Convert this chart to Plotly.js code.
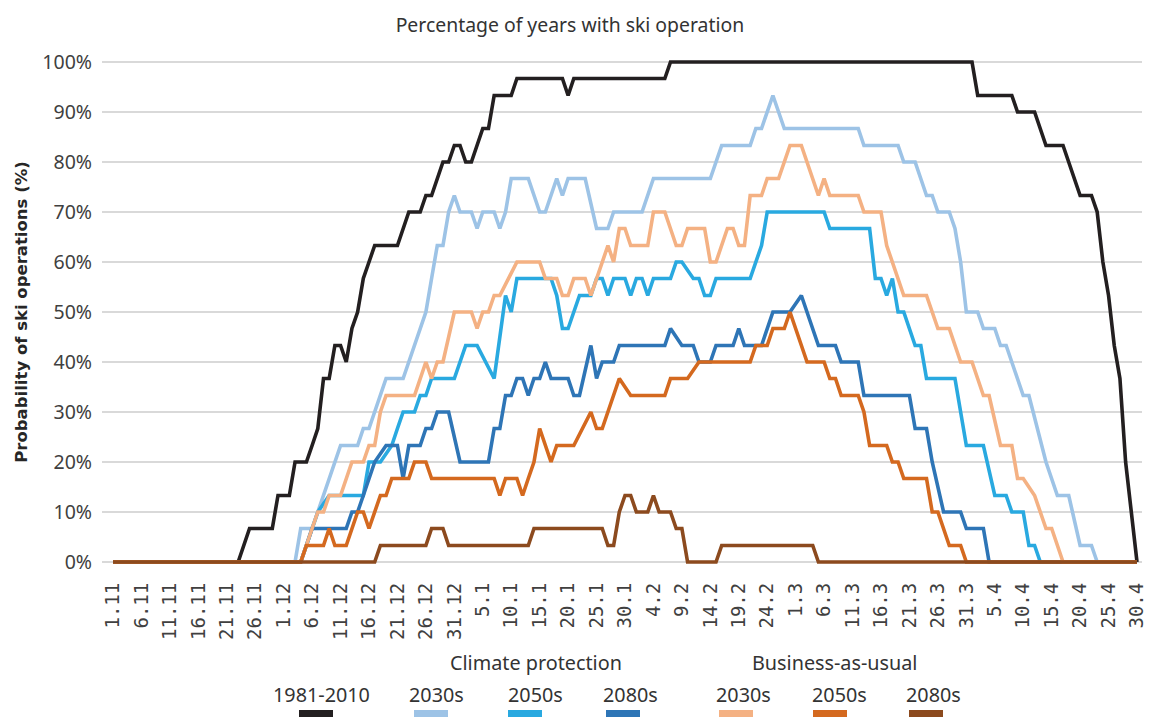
<!DOCTYPE html>
<html>
<head>
<meta charset="utf-8">
<script src="https://cdn.plot.ly/plotly-3.0.1.min.js"></script>
<style>
html,body{margin:0;padding:0;background:#fff;}
#chart{width:1149px;height:717px;}
</style>
</head>
<body>
<div id="chart"></div>
<script>
// ---- Data (day index 0 = 1 Nov, 180 = 30 Apr; values in % of years) ----
const tickDays = [0,5,10,15,20,25,30,35,40,45,50,55,60,65,70,75,80,85,90,95,100,105,110,115,120,125,130,135,140,145,150,155,160,165,170,175,180];
const tickLabels = ["1.11","6.11","11.11","16.11","21.11","26.11","1.12","6.12","11.12","16.12","21.12","26.12","31.12","5.1","10.1","15.1","20.1","25.1","30.1","4.2","9.2","14.2","19.2","24.2","1.3","6.3","11.3","16.3","21.3","26.3","31.3","5.4","10.4","15.4","20.4","25.4","30.4"];

const refDay = [0,22,24,28,29,31,32,34,35,36,37,38,39,40,41,42,43,44,45,46,50,52,54,55,56,58,59,60,61,62,63,65,66,67,70,71,79,80,81,97,98,151,152,158,159,162,164,167,170,172,173,174,175,176,177,178,179,180];
const refPct = [0,0,6.7,6.7,13.3,13.3,20,20,23.3,26.7,36.7,36.7,43.3,43.3,40,46.7,50,56.7,60,63.3,63.3,70,70,73.3,73.3,80,80,83.3,83.3,80,80,86.7,86.7,93.3,93.3,96.7,96.7,93.3,96.7,96.7,100,100,93.3,93.3,90,90,83.3,83.3,73.3,73.3,70,60,53.3,43.3,36.7,20,10,0];

const cp30Day = [0,32,33,35,36,37,38,39,40,43,44,45,46,47,48,51,52,53,54,55,56,57,58,59,60,61,63,64,65,67,68,69,70,73,75,76,78,79,80,83,85,87,88,93,95,105,107,112,113,114,116,118,131,132,138,139,141,143,144,145,147,148,149,150,152,153,155,156,157,160,161,164,166,168,170,172,173,180];
const cp30Pct = [0,0,6.7,6.7,10,13.3,16.7,20,23.3,23.3,26.7,26.7,30,33.3,36.7,36.7,40,43.3,46.7,50,56.7,63.3,63.3,70,73.3,70,70,66.7,70,70,66.7,70,76.7,76.7,70,70,76.7,73.3,76.7,76.7,66.7,66.7,70,70,76.7,76.7,83.3,83.3,86.7,86.7,93.3,86.7,86.7,83.3,83.3,80,80,73.3,73.3,70,70,66.7,60,50,50,46.7,46.7,43.3,43.3,33.3,33.3,20,13.3,13.3,3.3,3.3,0,0];

const cp50Day = [0,33,36,38,44,45,47,49,50,51,53,54,55,56,60,62,64,67,69,70,71,77,78,79,80,81,82,84,85,86,87,88,90,91,92,93,94,95,98,99,100,102,103,104,105,106,112,114,115,125,126,133,134,135,136,137,138,139,141,142,143,148,150,153,155,157,158,160,161,162,163,180];
const cp50Pct = [0,0,10,13.3,13.3,20,20,23.3,26.7,30,30,33.3,33.3,36.7,36.7,43.3,43.3,36.7,53.3,50,56.7,56.7,53.3,46.7,46.7,50,53.3,53.3,56.7,56.7,53.3,56.7,56.7,53.3,56.7,56.7,53.3,56.7,56.7,60,60,56.7,56.7,53.3,53.3,56.7,56.7,63.3,70,70,66.7,66.7,56.7,56.7,53.3,56.7,50,50,43.3,43.3,36.7,36.7,23.3,23.3,13.3,13.3,10,10,3.3,3.3,0,0];

const cp80Day = [0,33,35,41,42,43,44,46,48,50,51,52,54,55,56,57,59,61,66,67,68,69,70,71,72,73,74,75,76,77,80,81,82,84,85,86,88,89,97,98,100,102,103,105,106,109,110,111,114,116,119,121,124,127,128,131,132,140,141,143,144,146,149,150,153,154,180];
const cp80Pct = [0,0,6.7,6.7,10,10,13.3,20,23.3,23.3,16.7,23.3,23.3,26.7,26.7,30,30,20,20,26.7,26.7,33.3,33.3,36.7,36.7,33.3,36.7,36.7,40,36.7,36.7,33.3,33.3,43.3,36.7,40,40,43.3,43.3,46.7,43.3,43.3,40,40,43.3,43.3,46.7,43.3,43.3,50,50,53.3,43.3,43.3,40,40,33.3,33.3,26.7,26.7,20,10,10,6.7,6.7,0,0];

const bau30Day = [0,33,35,36,37,38,40,42,44,45,46,47,48,53,55,56,57,58,60,63,64,65,66,67,68,71,75,76,78,79,80,81,83,84,87,88,89,90,91,94,95,97,99,100,101,104,105,106,108,109,110,111,112,114,115,117,119,121,124,125,126,131,132,135,136,137,139,143,145,147,149,151,153,154,156,158,159,160,162,164,165,167,180];
const bau30Pct = [0,0,6.7,10,10,13.3,13.3,20,20,23.3,23.3,30,33.3,33.3,40,36.7,40,40,50,50,46.7,50,50,53.3,53.3,60,60,56.7,56.7,53.3,53.3,56.7,56.7,53.3,63.3,60,66.7,66.7,63.3,63.3,70,70,63.3,63.3,66.7,66.7,60,60,66.7,66.7,63.3,63.3,73.3,73.3,76.7,76.7,83.3,83.3,73.3,76.7,73.3,73.3,70,70,63.3,60,53.3,53.3,46.7,46.7,40,40,33.3,33.3,23.3,23.3,16.7,16.7,13.3,6.7,6.7,0,0];

const bau50Day = [0,33,34,37,38,39,41,43,44,45,47,48,49,52,53,55,56,67,68,69,71,72,73,74,75,77,78,81,84,85,86,89,91,97,98,101,103,112,113,115,116,118,119,122,125,126,127,128,131,132,133,136,137,138,139,143,144,145,147,149,150,180];
const bau50Pct = [0,0,3.3,3.3,6.7,3.3,3.3,10,10,6.7,13.3,13.3,16.7,16.7,20,20,16.7,16.7,13.3,16.7,16.7,13.3,16.7,20,26.7,20,23.3,23.3,30,26.7,26.7,36.7,33.3,33.3,36.7,36.7,40,40,43.3,43.3,46.7,46.7,50,40,40,36.7,36.7,33.3,33.3,30,23.3,23.3,20,20,16.7,16.7,10,10,3.3,3.3,0,0];

const bau80Day = [0,46,47,55,56,58,59,73,74,86,87,88,89,90,91,92,94,95,96,98,99,100,101,106,107,123,124,180];
const bau80Pct = [0,0,3.3,3.3,6.7,6.7,3.3,3.3,6.7,6.7,3.3,3.3,10,13.3,13.3,10,10,13.3,10,10,6.7,6.7,0,0,3.3,3.3,0,0];

const seriesNames = ["1981-2010","2030s","2050s","2080s","2030s","2050s","2080s"];
const seriesColors = ["#231f20","#9dc3e6","#29a9e0","#2e75b6","#f4b183","#d4691f","#8c4a1e"];
const seriesDays = [refDay,cp30Day,cp50Day,cp80Day,bau30Day,bau50Day,bau80Day];
const seriesPct = [refPct,cp30Pct,cp50Pct,cp80Pct,bau30Pct,bau50Pct,bau80Pct];

// ---- Layout geometry ----
const W = 1149, H = 717;
const M = {l:102, r:7, t:57, b:150};
const plotW = W - M.l - M.r, plotH = H - M.t - M.b;
const px2x = px => (px - M.l) / plotW;
const py2y = py => (H - M.b - py) / plotH;

const traces = seriesDays.map((d, i) => ({
  type: 'scatter', mode: 'lines',
  x: d, y: seriesPct[i], name: seriesNames[i],
  line: {color: seriesColors[i], width: 3.6, shape: 'linear'},
  hoverinfo: 'skip', showlegend: false
}));

const sans = 'Noto Sans, Open Sans, sans-serif';
const annotations = [
  {text: 'Climate protection', x: px2x(536), y: py2y(662)},
  {text: 'Business-as-usual', x: px2x(834), y: py2y(662)}
];
const labelX = [321, 436, 535, 630, 743, 839, 933];
const swatchX = [316, 431, 525, 623, 736, 830, 926];
seriesNames.forEach((n, i) => annotations.push({text: n, x: px2x(labelX[i]), y: py2y(694)}));
annotations.forEach(a => Object.assign(a, {xref: 'paper', yref: 'paper', showarrow: false, xanchor: 'center', yanchor: 'middle', font: {family: sans, size: 19.8, color: '#333333'}}));

const shapes = seriesColors.map((c, i) => ({
  type: 'rect', xref: 'paper', yref: 'paper',
  x0: px2x(swatchX[i] - 17), x1: px2x(swatchX[i] + 17),
  y0: py2y(722), y1: py2y(710),
  fillcolor: c, line: {width: 0}
}));

const layout = {
  width: W, height: H,
  margin: M,
  paper_bgcolor: '#ffffff', plot_bgcolor: '#ffffff',
  title: {text: 'Percentage of years with ski operation', x: 0.496, xanchor: 'center', y: 0.965, yanchor: 'middle', yref: 'container', font: {family: sans, size: 19.4, color: '#333333'}},
  xaxis: {
    range: [-(113 - M.l) / 5.689, 180 + (M.l + plotW - 1137) / 5.689],
    tickmode: 'array', tickvals: tickDays, ticktext: tickLabels,
    tickangle: -90, showgrid: false, zeroline: false, showline: false,
    ticks: '', ticklabelstandoff: 11,
    tickfont: {family: 'DejaVu Sans Mono, monospace', size: 19, color: '#404040'},
    fixedrange: true
  },
  yaxis: {
    range: [-1, 101],
    tickmode: 'array', tickvals: [0,10,20,30,40,50,60,70,80,90,100],
    ticktext: ['0%','10%','20%','30%','40%','50%','60%','70%','80%','90%','100%'],
    showgrid: true, gridcolor: '#d9d9d9', gridwidth: 1.5, zeroline: false, showline: false,
    ticks: '', ticklabelstandoff: 9,
    tickfont: {family: sans, size: 19.5, color: '#404040'},
    title: {text: '<b>Probability of ski operations (%)</b>', standoff: 10, font: {family: 'DejaVu Sans, sans-serif', size: 16.5, color: '#262626'}},
    fixedrange: true
  },
  showlegend: false,
  annotations: annotations,
  shapes: shapes
};

Plotly.newPlot('chart', traces, layout, {displayModeBar: false, staticPlot: true});
</script>
</body>
</html>
